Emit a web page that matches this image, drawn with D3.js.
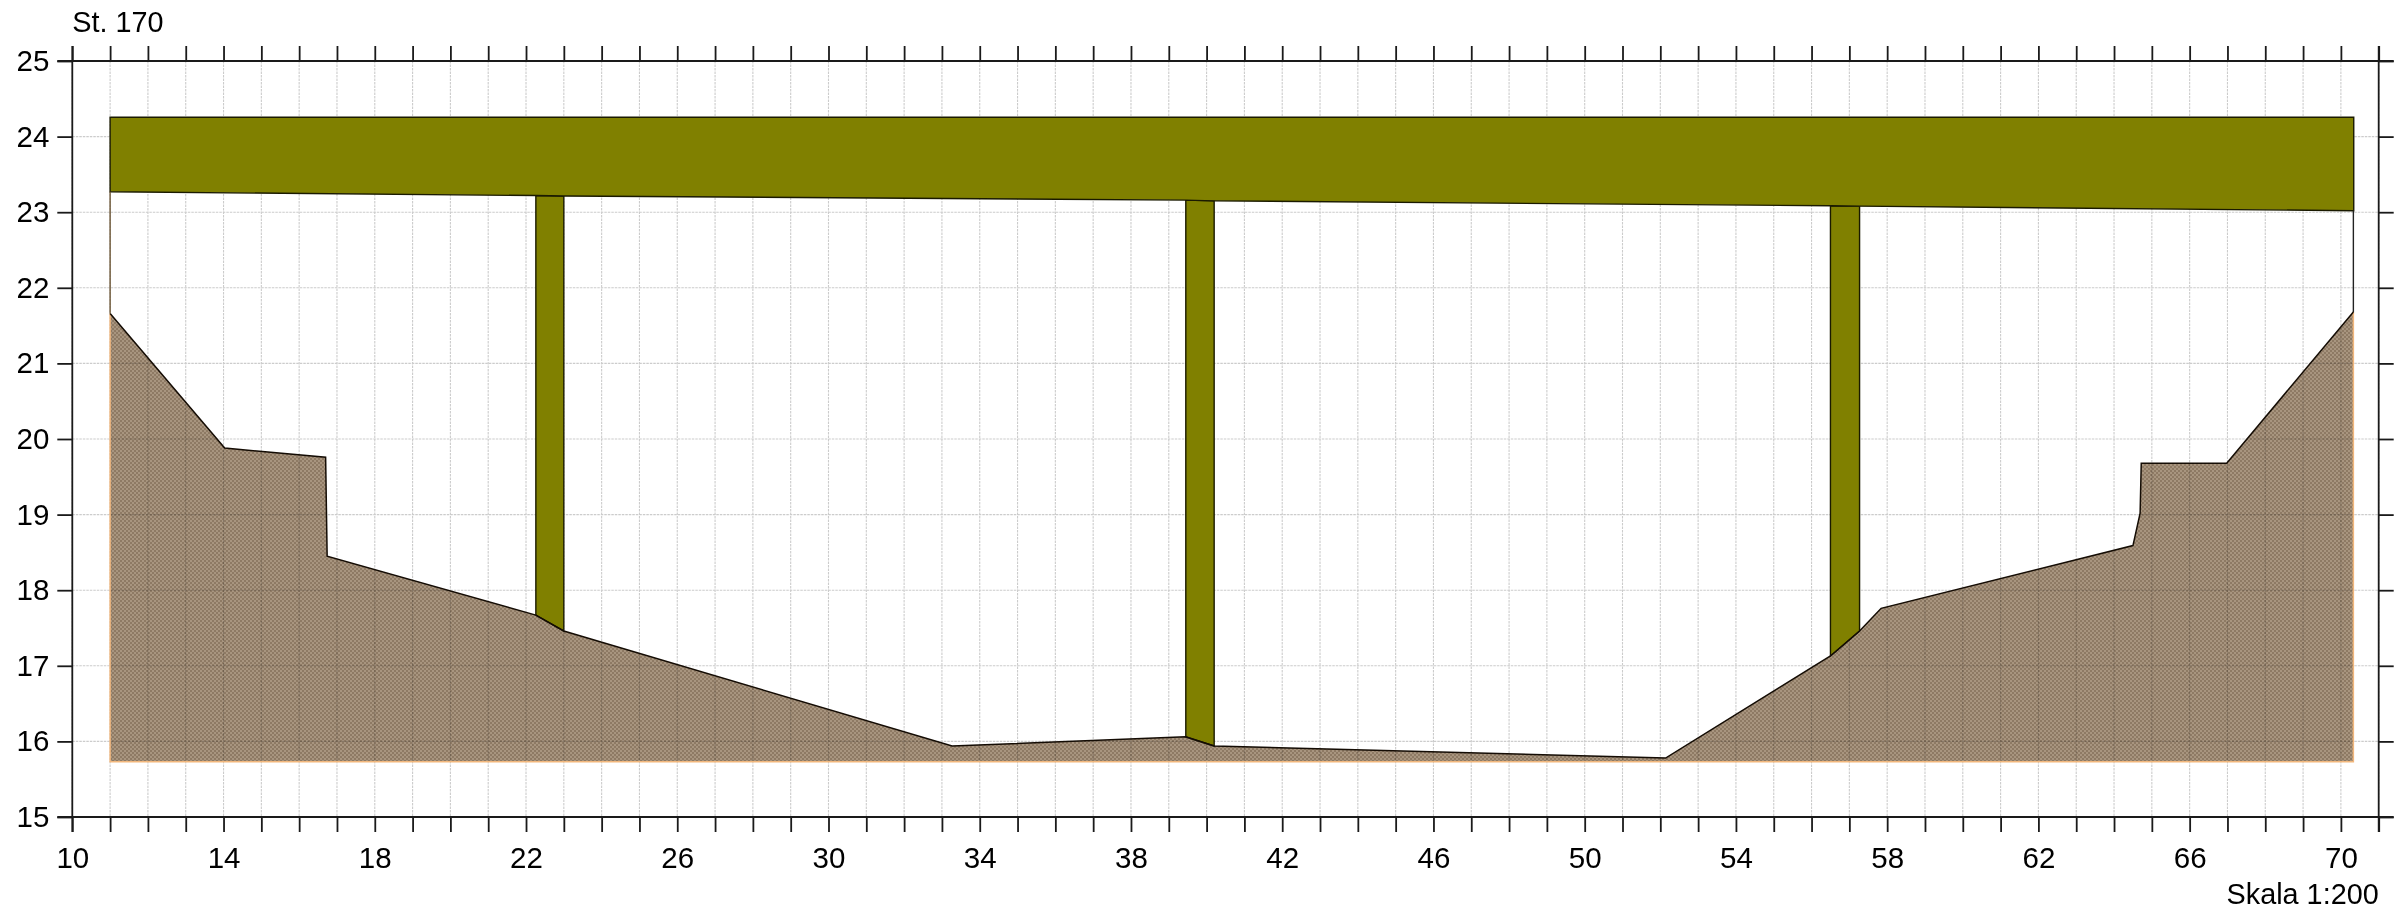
<!DOCTYPE html>
<html><head><meta charset="utf-8">
<script src="https://cdn.jsdelivr.net/npm/d3@7"></script>
<style>html,body{margin:0;padding:0;background:#fff}svg{display:block}text{font-family:"Liberation Sans",Arial,sans-serif;fill:#000}</style>
</head><body><svg id="c" width="2396" height="915"></svg>
<script>
const titleText="St. 170", scaleText="Skala 1:200";
const xLabels=[10,14,18,22,26,30,34,38,42,46,50,54,58,62,66,70];
const yLabels=[15,16,17,18,19,20,21,22,23,24,25];
const xMinor=d3.range(10,72);
const deck=[[11,24.255],[70.34,24.255],[70.34,23.02],[57.27,23.08],[56.5,23.085],[40.2,23.15],[39.45,23.16],[23,23.215],[22.26,23.22],[11,23.27]];
const pier1=[[22.26,23.22],[23,23.215],[23,17.46],[22.26,17.67]];
const pier2=[[39.45,23.16],[40.2,23.15],[40.2,15.94],[39.45,16.06]];
const pier3=[[56.5,23.085],[57.27,23.08],[57.27,17.46],[56.5,17.13]];
const ground=[[11,21.66],[14.03,19.88],[16.7,19.76],[16.74,18.45],[22.26,17.67],[23,17.46],[33.27,15.94],[39.45,16.06],[40.2,15.94],[52.14,15.78],[56.5,17.13],[57.27,17.46],[57.84,17.76],[64.5,18.59],[64.69,19.02],[64.72,19.68],[66.98,19.68],[70.33,21.68]];
const groundBase=15.73;
const leftEdge=[[11,21.66],[11,23.27]], rightEdge=[[70.33,21.68],[70.33,23.02]];

const x=d3.scaleLinear().domain([10,71]).range([72.3,2378.7]);
const y=d3.scaleLinear().domain([15,25]).range([817,61]);
const svg=d3.select("#c");
const line=d3.line().x(d=>x(d[0])).y(d=>y(d[1]));
const defs=svg.append("defs");
const pat=defs.append("pattern").attr("id","hatch").attr("patternUnits","userSpaceOnUse").attr("width",4).attr("height",4);
pat.append("rect").attr("width",4).attr("height",4).attr("fill","#a8957f");
pat.append("rect").attr("width",2).attr("height",2).attr("fill","#8e7a64");
pat.append("rect").attr("x",2).attr("y",2).attr("width",2).attr("height",2).attr("fill","#8e7a64");

const grid=svg.append("g").attr("stroke","#cccccc").attr("stroke-width",1.1).attr("stroke-dasharray","2.5 1");
grid.selectAll(".v").data(xMinor).join("line").attr("x1",d=>x(d)).attr("x2",d=>x(d)).attr("y1",y(25)).attr("y2",y(15));
grid.selectAll(".h").data(yLabels).join("line").attr("x1",x(10)).attr("x2",x(71)).attr("y1",d=>y(d)).attr("y2",d=>y(d));

const poly=[...ground,[ground[ground.length-1][0],groundBase],[ground[0][0],groundBase]];
svg.append("path").attr("d",line(poly)+"Z").attr("fill","url(#hatch)").style("mix-blend-mode","multiply");
svg.append("path").attr("d",line([[ground[ground.length-1][0],ground[ground.length-1][1]],[ground[ground.length-1][0],groundBase],[ground[0][0],groundBase],ground[0]])).attr("fill","none").attr("stroke","#f2b77c").attr("stroke-width",1.5);

[pier1,pier2,pier3,deck].forEach(p=>svg.append("path").attr("d",line(p)+"Z").attr("fill","#808000").attr("stroke","#1a1a00").attr("stroke-width",1.4));
svg.append("path").attr("d",line(ground)).attr("fill","none").attr("stroke","#140c04").attr("stroke-width",1.5);
svg.append("path").attr("d",line(leftEdge)).attr("fill","none").attr("stroke","#6b5535").attr("stroke-width",1.4);
svg.append("path").attr("d",line(rightEdge)).attr("fill","none").attr("stroke","#222").attr("stroke-width",1.4);

const tick=15, axisCol="#1a1a1a", axisW=1.8;
const bottom=svg.append("g").attr("transform",`translate(0,${y(15)})`).call(d3.axisBottom(x).tickValues(xMinor).tickSize(tick).tickFormat(d=>xLabels.includes(d)?d:"").tickPadding(15));
const top_=svg.append("g").attr("transform",`translate(0,${y(25)})`).call(d3.axisTop(x).tickValues(xMinor).tickSize(tick).tickFormat(""));
const left=svg.append("g").attr("transform",`translate(${x(10)},0)`).call(d3.axisLeft(y).tickValues(yLabels).tickSize(tick).tickPadding(8));
const right=svg.append("g").attr("transform",`translate(${x(71)},0)`).call(d3.axisRight(y).tickValues(yLabels).tickSize(tick).tickFormat(""));
[bottom,top_,left,right].forEach(g=>{g.selectAll("path").remove();g.selectAll("line").attr("stroke",axisCol).attr("stroke-width",axisW);g.selectAll("text").attr("font-size",29.5)});
const frame=svg.append("g").attr("stroke",axisCol).attr("stroke-width",axisW);
frame.append("line").attr("x1",x(10)-tick).attr("x2",x(71)+tick).attr("y1",y(25)).attr("y2",y(25));
frame.append("line").attr("x1",x(10)-tick).attr("x2",x(71)+tick).attr("y1",y(15)).attr("y2",y(15));
frame.append("line").attr("x1",x(10)).attr("x2",x(10)).attr("y1",y(25)-tick).attr("y2",y(15)+tick);
frame.append("line").attr("x1",x(71)).attr("x2",x(71)).attr("y1",y(25)-tick).attr("y2",y(15)+tick);
svg.append("text").attr("x",x(10)).attr("y",32).attr("font-size",28.8).text(titleText);
svg.append("text").attr("x",x(71)).attr("y",904).attr("text-anchor","end").attr("font-size",28.8).text(scaleText);
</script></body></html>
